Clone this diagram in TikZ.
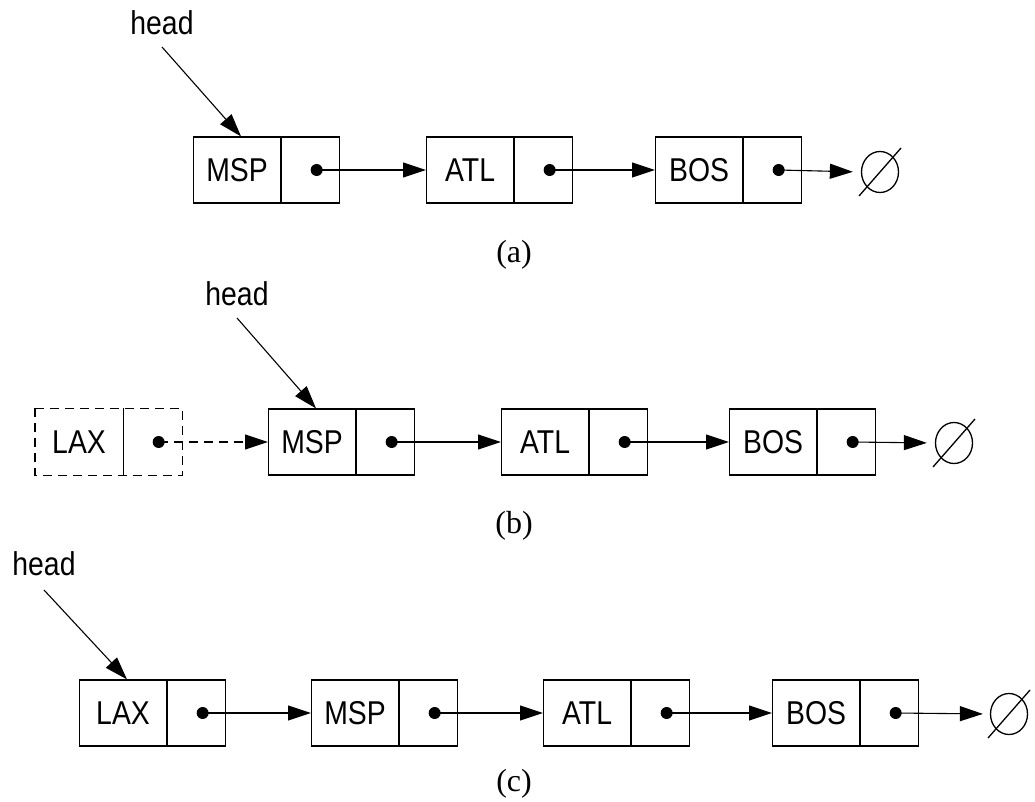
\documentclass[tikz,border=0pt]{standalone}
\usepackage{fontspec}
\usetikzlibrary{arrows.meta,calc,shapes.geometric}
\newfontfamily\labfont{Liberation Sans}[FakeStretch=0.86]
\newfontfamily\capfont{Liberation Serif}
\tikzset{
  datab/.style={draw, line width=1.1pt, rectangle, minimum width=87pt, minimum height=66pt, inner sep=0pt, anchor=west, font=\labfont\fontsize{33}{36}\selectfont},
  ptrb/.style={draw, line width=1.1pt, rectangle, minimum width=58pt, minimum height=66pt, inner sep=0pt, anchor=west},
  dashbox/.style={dash pattern=on 9pt off 6pt},
  ptrdot/.style={circle, fill=black, inner sep=0pt, minimum size=12pt},
  arr/.style={line width=1.1pt, -{Triangle[length=23pt,width=15pt]}},
  nullsym/.style={draw, line width=1.3pt, ellipse, minimum width=37pt, minimum height=41pt, inner sep=0pt},
  headlbl/.style={font=\labfont\fontsize{33}{36}\selectfont, anchor=base, inner sep=0pt},
  caplbl/.style={font=\capfont\fontsize{32}{35}\selectfont, inner sep=0pt},
}
\begin{document}
\begin{tikzpicture}[x=1pt,y=-1pt]
\useasboundingbox (0,0) rectangle (1035,802);

% ---------- (a) ----------
\node[datab] (a1d) at (193,170) {MSP};
\node[ptrb]  (a1p) at (a1d.east) {};
\node[ptrdot] (a1o) at ($(a1p.center)+(6,0)$) {};
\node[datab] (a2d) at (426,170) {ATL};
\node[ptrb]  (a2p) at (a2d.east) {};
\node[ptrdot] (a2o) at ($(a2p.center)+(6,0)$) {};
\node[datab] (a3d) at (655,170) {BOS};
\node[ptrb]  (a3p) at (a3d.east) {};
\node[ptrdot] (a3o) at ($(a3p.center)+(6,0)$) {};
\node[nullsym] (a4) at (880,172) {};
\draw[line width=1.3pt] ($(a4.center)+(-21,24)$) -- ($(a4.center)+(21,-24)$);
\draw[arr] (a1o.center) -- (a2d.west);
\draw[arr] (a2o.center) -- (a3d.west);
\draw[arr, shorten >=8pt] (a3o.center) -- (a4.west);
\node[headlbl] (ah) at (162,35) {head};
\draw[arr] ($(ah.base)+(0,12)$) -- ($(a1d.north)+(4,0)$);
\node[caplbl] (acap) at (514,255) {(a)};

% ---------- (b) ----------
\node[datab, draw=none] (b0d) at (35,442) {LAX};
\node[ptrb, draw=none]  (b0p) at (b0d.east) {};
\draw[line width=1.1pt, dashbox] (b0d.north west) rectangle (b0p.south east);
\draw[line width=1.1pt] (b0p.north west) -- (b0p.south west);
\node[ptrdot] (b0o) at ($(b0p.center)+(6,0)$) {};
\node[datab] (b1d) at (268,442) {MSP};
\node[ptrb]  (b1p) at (b1d.east) {};
\node[ptrdot] (b1o) at ($(b1p.center)+(6,0)$) {};
\node[datab] (b2d) at (501,442) {ATL};
\node[ptrb]  (b2p) at (b2d.east) {};
\node[ptrdot] (b2o) at ($(b2p.center)+(6,0)$) {};
\node[datab] (b3d) at (729,442) {BOS};
\node[ptrb]  (b3p) at (b3d.east) {};
\node[ptrdot] (b3o) at ($(b3p.center)+(6,0)$) {};
\node[nullsym] (b4) at (954,443) {};
\draw[line width=1.3pt] ($(b4.center)+(-21,24)$) -- ($(b4.center)+(21,-24)$);
\draw[arr, dashbox] (b0o.center) -- (b1d.west);
\draw[arr] (b1o.center) -- (b2d.west);
\draw[arr] (b2o.center) -- (b3d.west);
\draw[arr, shorten >=8pt] (b3o.center) -- (b4.west);
\node[headlbl] (bh) at (237,305) {head};
\draw[arr] ($(bh.base)+(0,13)$) -- ($(b1d.north)+(4,0)$);
\node[caplbl] (bcap) at (514,526) {(b)};

% ---------- (c) ----------
\node[datab] (c1d) at (79,713) {LAX};
\node[ptrb]  (c1p) at (c1d.east) {};
\node[ptrdot] (c1o) at ($(c1p.center)+(6,0)$) {};
\node[datab] (c2d) at (311,713) {MSP};
\node[ptrb]  (c2p) at (c2d.east) {};
\node[ptrdot] (c2o) at ($(c2p.center)+(6,0)$) {};
\node[datab] (c3d) at (543,713) {ATL};
\node[ptrb]  (c3p) at (c3d.east) {};
\node[ptrdot] (c3o) at ($(c3p.center)+(6,0)$) {};
\node[datab] (c4d) at (772,713) {BOS};
\node[ptrb]  (c4p) at (c4d.east) {};
\node[ptrdot] (c4o) at ($(c4p.center)+(6,0)$) {};
\node[nullsym] (c5) at (1009,714) {};
\draw[line width=1.3pt] ($(c5.center)+(-21,24)$) -- ($(c5.center)+(21,-24)$);
\draw[arr] (c1o.center) -- (c2d.west);
\draw[arr] (c2o.center) -- (c3d.west);
\draw[arr] (c3o.center) -- (c4d.west);
\draw[arr, shorten >=7pt] (c4o.center) -- (c5.west);
\node[headlbl] (ch) at (44,575) {head};
\draw[arr] ($(ch.base)+(0,15)$) -- ($(c1d.north)+(4,0)$);
\node[caplbl] (ccap) at (514,784) {(c)};
\end{tikzpicture}
\end{document}
